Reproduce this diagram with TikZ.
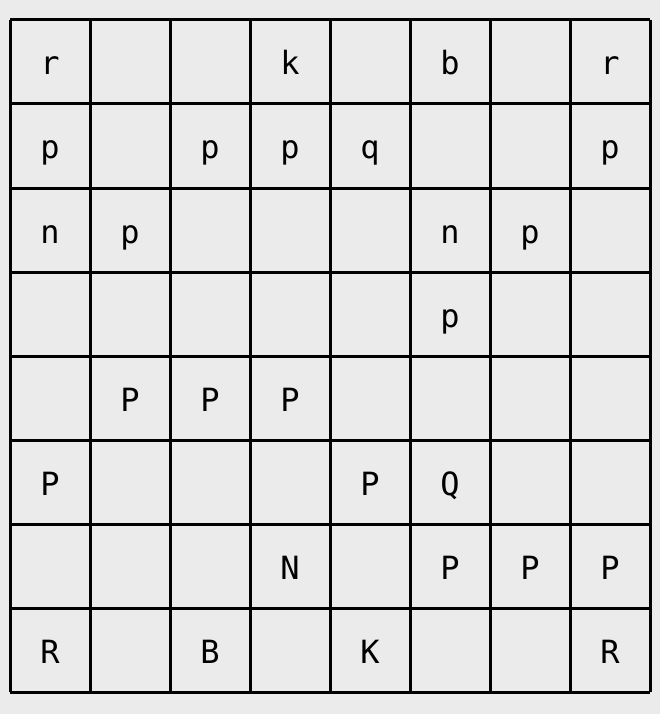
\documentclass[tikz,border=0pt]{standalone}
\usepackage{fontspec}
\setmonofont{DejaVu Sans Mono}
\definecolor{bg}{HTML}{EBEBEB}
\begin{document}
\begin{tikzpicture}[x=1pt,y=-1pt,
  piece/.style={font=\ttfamily\fontsize{32}{32}\selectfont, inner sep=0pt, anchor=base},
  gridline/.style={line width=3pt, black}]
\fill[bg] (0,0) rectangle (660,714);
\useasboundingbox (0,0) rectangle (660,714);
\foreach \i in {0,...,8} {
  \draw[gridline] (10+80*\i,20) -- (10+80*\i,692);
  \draw[gridline] (10,20+84*\i) -- (650,20+84*\i);
}
% pieces (anchored at baseline, 13pt below cell centre)
\node[piece] (a8) at (50,75) {r};
\node[piece] (d8) at (290,75) {k};
\node[piece] (f8) at (450,75) {b};
\node[piece] (h8) at (610,75) {r};
\node[piece] (a7) at (50,159) {p};
\node[piece] (c7) at (210,159) {p};
\node[piece] (d7) at (290,159) {p};
\node[piece] (e7) at (370,159) {q};
\node[piece] (h7) at (610,159) {p};
\node[piece] (a6) at (50,243) {n};
\node[piece] (b6) at (130,243) {p};
\node[piece] (f6) at (450,243) {n};
\node[piece] (g6) at (530,243) {p};
\node[piece] (f5) at (450,327) {p};
\node[piece] (b4) at (130,411) {P};
\node[piece] (c4) at (210,411) {P};
\node[piece] (d4) at (290,411) {P};
\node[piece] (a3) at (50,495) {P};
\node[piece] (e3) at (370,495) {P};
\node[piece] (f3) at (450,495) {Q};
\node[piece] (d2) at (290,579) {N};
\node[piece] (f2) at (450,579) {P};
\node[piece] (g2) at (530,579) {P};
\node[piece] (h2) at (610,579) {P};
\node[piece] (a1) at (50,663) {R};
\node[piece] (c1) at (210,663) {B};
\node[piece] (e1) at (370,663) {K};
\node[piece] (h1) at (610,663) {R};
\end{tikzpicture}
\end{document}
